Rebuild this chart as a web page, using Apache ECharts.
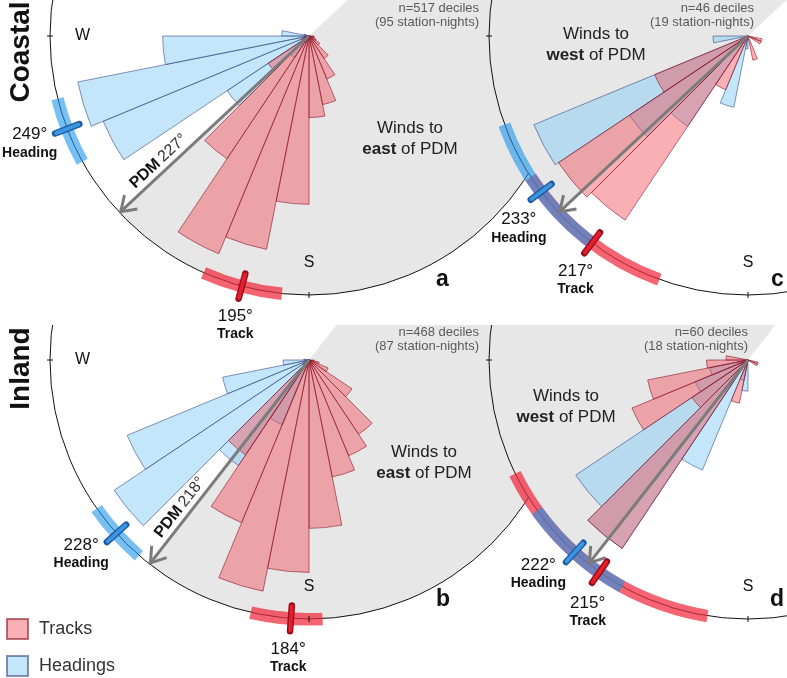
<!DOCTYPE html>
<html><head><meta charset="utf-8">
<script src="https://cdn.jsdelivr.net/npm/echarts@6/dist/echarts.min.js"></script>
<style>
html,body{margin:0;padding:0;background:#fff;}
#top,#bot{position:absolute;left:0;width:787px;}
#top{top:0;height:346px;z-index:2;}
#bot{top:325px;height:353px;z-index:1;}
</style>
</head><body><div id="bot"></div><div id="top"></div>
<script>
const FONT = "'Liberation Sans', Arial, Helvetica, sans-serif";

// 32 direction bins (bearing of bin start, degrees clockwise from north)
const binStarts = [0,11.25,22.5,33.75,45,56.25,67.5,78.75,90,101.25,112.5,123.75,135,146.25,157.5,168.75,
                   180,191.25,202.5,213.75,225,236.25,247.5,258.75,270,281.25,292.5,303.75,315,326.25,337.5,348.75];

// panels: a (coastal, all), b (inland, all), c (coastal, west), d (inland, west)
const panelLetters  = ['a','b','c','d'];
const pdmBearing    = [227,218,227,218];
const shadedSide    = ['east','east','west','west'];
const headingMean   = [249,228,233,222];
const headingLow    = [241,221,217,209];
const headingHigh   = [256,235,250,234.5];
const trackMean     = [195,184,217,215];
const trackLow      = [186,177,200,189];
const trackHigh     = [204,193,237,244];
const decileCount   = [517,468,46,60];
const stationNights = [95,87,19,18];
const compassShown  = [['W','S'],['W','S'],['S'],['S']];
const pdmLabelShown = [true,true,false,false];
const windSideWord  = ['east','east','west','west'];
const legendNames   = ['Tracks','Headings'];

// rose lengths (% of circle radius) per bin
const tracksA   = [0,0,0,0,0,0,0,0,2,2,3,5,10.5,18,27,31.5,65,84,91,57,19,3,2,0,0,0,0,0,0,0,0,0];
const headingsA = [0,0,0,0,0,0,0,0,0,0,0,0,0,0,0,0,0,0,3,10,38,86,91,56.5,10.5,2,0,0,0,0,0,0];
const tracksB   = [0,0,0,0,0,0,0,0,2,4,8,20,34.5,40,46,65,82,91,68,44,3,0,0,0,0,0,0,0,0,0,0,0];
const headingsB = [0,0,0,0,0,0,0,0,0,0,0,0,0,0,0,0,0,3,27,49,90.5,76,34,10,2,0,0,0,0,0,0,0];
const tracksC   = [0,0,0,0,0,0,0,0,0,5.5,5.5,0,0,0,9.5,0,0,0,22.5,85.5,88,39,0,0,0,0,0,0,0,0,0,0];
const headingsC = [0,0,0,0,0,0,0,0,0,0,0,0,0,0,0,0,5,28,0,42,55,89.5,0,13.5,0,0,0,0,0,0,0,0];
const tracksD   = [0,0,0,0,0,0,0,0,0,4,4,0,0,0,0,0,0,17,0,87.5,26,48.5,39.5,16,8.5,0,0,0,0,0,0,0];
const headingsD = [0,0,0,0,0,0,0,0,0,0,0,0,0,0,0,0,12,8,46,87.5,80,22,15,0,0,0,0,0,0,0,0,0];
const trackSeries   = [tracksA, tracksB, tracksC, tracksD];
const headingSeries = [headingsA, headingsB, headingsC, headingsD];

// ---------- layout ----------
const R_PX = 259;
const panelLayout = [
  {center:[309,36], nX:479, nY:15.5, winds:[410,139], letter:[442.5,280], hShift:0,   tShift:-0.7},
  {center:[309,35], nX:479, nY:14.7, winds:[424,138], letter:[443,275],   hShift:1.6, tShift:0},
  {center:[748,36], nX:754, nY:15.5, winds:[596,45],  letter:[777.5,280], hShift:-3,  tShift:-1.7},
  {center:[748,35], nX:748, nY:14.7, winds:[566,82],  letter:[777,275],   hShift:2.5, tShift:-2.5}
];
const legendTops = [293, 330];
const RED_FILL = 'rgba(240,80,92,0.45)', RED_EDGE = 'rgba(140,20,40,0.6)';
const BLUE_FILL = 'rgba(135,205,245,0.5)', BLUE_EDGE = 'rgba(40,60,120,0.55)';
const GRAY = '#e7e7e7';

function helpers(api) {
  const c = api.coord([0, 0]);
  const ref = api.coord([100, 180]);
  const R = Math.hypot(ref[0]-c[0], ref[1]-c[1]);
  const norm = b => ((b % 360) + 360) % 360;
  const dir = b => { const p = api.coord([100, norm(b)]); return [(p[0]-c[0])/R, (p[1]-c[1])/R]; };
  const at = (b, rpx) => { const d = dir(b); return [c[0]+d[0]*rpx, c[1]+d[1]*rpx]; };
  const ang = b => { const d = dir(b); return Math.atan2(d[1], d[0]); };
  const sector = (b1, b2, r0, r, fill) => {
    let s = ang(b1), e = ang(b2);
    while (e <= s) e += 2*Math.PI;
    return {type:'sector', shape:{cx:c[0], cy:c[1], r0, r, startAngle:s, endAngle:e, clockwise:true}, style:{fill}};
  };
  return {c, R, dir, at, ang, sector};
}

function grayRender(p) {
  return function (params, api) {
    const H = helpers(api);
    const pdm = pdmBearing[p];
    const b1 = shadedSide[p] === 'east' ? pdm - 180 : pdm;
    const b2 = shadedSide[p] === 'east' ? pdm : pdm + 180;
    return H.sector(b1, b2, 0, H.R, GRAY);
  };
}

function line(p1, p2, stroke, w, cap) {
  return {type:'line', shape:{x1:p1[0], y1:p1[1], x2:p2[0], y2:p2[1]}, style:{stroke, lineWidth:w, lineCap:cap||'butt'}};
}

function decorRender(p) {
  const L = panelLayout[p];
  return function (params, api) {
    const H = helpers(api);
    const R = H.R;
    const kids = [];
    kids.push(H.sector(trackLow[p], trackHigh[p], R-6, R+6.5, 'rgba(240,40,60,0.72)'));
    kids.push(H.sector(headingLow[p], headingHigh[p], R-6, R+6.5, 'rgba(30,150,235,0.6)'));
    [180, 270].forEach(b => kids.push(line(H.at(b, R-3), H.at(b, R+3), '#111', 1)));
    compassShown[p].forEach(t => {
      const b = t === 'S' ? 180 : 270;
      const q = H.at(b, R - 32.5);
      kids.push({type:'text', x:q[0], y:q[1], style:{text:t, font:'16px '+FONT, fill:'#111', align:'center', verticalAlign:'middle'}});
    });
    const pdm = pdmBearing[p];
    const u = H.dir(pdm);
    const tip = H.at(pdm, R - 1.5);
    kids.push(line(H.c, tip, '#7b7b7b', 3));
    const arm = sgn => {
      const th = sgn * 34 * Math.PI / 180, bx = -u[0], by = -u[1];
      const rx = bx*Math.cos(th) - by*Math.sin(th), ry = bx*Math.sin(th) + by*Math.cos(th);
      return [tip[0] + rx*17, tip[1] + ry*17];
    };
    kids.push({type:'polyline', shape:{points:[arm(1), tip, arm(-1)]}, style:{stroke:'#7b7b7b', lineWidth:3, fill:null, lineJoin:'miter'}});
    if (pdmLabelShown[p]) {
      const mid = H.at(pdm, 0.755*R);
      const px = mid[0] - u[1]*11, py = mid[1] + u[0]*11;
      kids.push({type:'text', x:px, y:py, rotation:Math.atan2(u[1], -u[0]),
        style:{text:'{b|PDM} {n|' + pdm + '°}', align:'center', verticalAlign:'middle',
          rich:{b:{fontFamily:FONT, fontSize:16, fontWeight:'bold', fill:'#111'}, n:{fontFamily:FONT, fontSize:16, fill:'#333'}}}});
    }
    const marker = (b, dark, light) => {
      kids.push(line(H.at(b, R-13), H.at(b, R+13), dark, 6.5, 'round'));
      kids.push(line(H.at(b, R-12), H.at(b, R+12), light, 3.8, 'round'));
    };
    marker(trackMean[p], '#9a0c18', '#e41e2c');
    marker(headingMean[p], '#1d5aa0', '#3b95e0');
    const rich = {n:{fontFamily:FONT, fontSize:17, lineHeight:19, fill:'#111'}, w:{fontFamily:FONT, fontSize:14, fontWeight:'bold', lineHeight:17, fill:'#111'}};
    const hp = H.at(headingMean[p] + L.hShift, R*1.155);
    kids.push({type:'text', x:hp[0], y:hp[1], style:{text:'{n|' + headingMean[p] + '°}\n{w|Heading}', rich, align:'center', verticalAlign:'middle'}});
    const tp = H.at(trackMean[p] + L.tShift, R*1.152);
    kids.push({type:'text', x:tp[0], y:tp[1], style:{text:'{n|' + trackMean[p] + '°}\n{w|Track}', rich, align:'center', verticalAlign:'middle'}});
    return {type:'group', children:kids};
  };
}

function buildOption(panelIdx, sideLabel, sideLabelY, withLegend) {
  const polar = [], angleAxis = [], radiusAxis = [], series = [], graphic = [];
  panelIdx.forEach((p, k) => {
    const L = panelLayout[p];
    const ri = 2*k, oi = 2*k + 1;
    polar.push({center:L.center, radius:R_PX}, {center:L.center, radius:R_PX});
    angleAxis.push({polarIndex:ri, type:'category', data:binStarts, startAngle:90, clockwise:true, boundaryGap:true, show:false});
    radiusAxis.push({polarIndex:ri, type:'value', min:0, max:100, show:false});
    angleAxis.push({polarIndex:oi, type:'value', min:0, max:360, startAngle:90, clockwise:true, z:2 + 2*k,
      axisLine:{show:true, lineStyle:{color:'#111', width:1}}, axisTick:{show:false}, axisLabel:{show:false}, splitLine:{show:false}});
    radiusAxis.push({polarIndex:oi, type:'value', min:0, max:100, show:false});
    series.push({type:'custom', coordinateSystem:'polar', polarIndex:oi, z:1 + 2*k, silent:true, data:[[0,0]], renderItem:grayRender(p)});
    series.push({type:'bar', name:legendNames[1], coordinateSystem:'polar', polarIndex:ri, z:10, silent:true,
      data:headingSeries[p].map(v => v > 0 ? v : null), barCategoryGap:'0%', barGap:'-100%',
      itemStyle:{color:BLUE_FILL, borderColor:BLUE_EDGE, borderWidth:1}, emphasis:{disabled:true}});
    series.push({type:'bar', name:legendNames[0], coordinateSystem:'polar', polarIndex:ri, z:11, silent:true,
      data:trackSeries[p].map(v => v > 0 ? v : null), barCategoryGap:'0%', barGap:'-100%',
      itemStyle:{color:RED_FILL, borderColor:RED_EDGE, borderWidth:1}, emphasis:{disabled:true}});
    series.push({type:'custom', coordinateSystem:'polar', polarIndex:oi, z:12, silent:true, data:[[0,0]], renderItem:decorRender(p)});
    graphic.push({type:'text', x:L.nX, y:L.nY, z:50, silent:true, style:{text:'n=' + decileCount[p] + ' deciles\n(' + stationNights[p] + ' station-nights)',
      font:'13px ' + FONT, fill:'#5a5a5a', align:'right', verticalAlign:'middle', lineHeight:14.4}});
    graphic.push({type:'text', x:L.winds[0], y:L.winds[1], z:50, silent:true, style:{text:'{r|Winds to}\n{b|' + windSideWord[p] + '}{r| of PDM}',
      align:'center', verticalAlign:'middle',
      rich:{r:{fontFamily:FONT, fontSize:17, lineHeight:21.5, fill:'#222'}, b:{fontFamily:FONT, fontSize:17, fontWeight:'bold', lineHeight:21.5, fill:'#222'}}}});
    graphic.push({type:'text', x:L.letter[0], y:L.letter[1], z:50, silent:true, style:{text:panelLetters[p], font:'bold 23px ' + FONT, fill:'#111', align:'center', verticalAlign:'middle'}});
  });
  graphic.push({type:'text', x:21, y:sideLabelY, rotation:Math.PI/2, z:50, silent:true, style:{text:sideLabel, font:'bold 28px ' + FONT, fill:'#111', align:'center', verticalAlign:'middle'}});
  const opt = {animation:false, backgroundColor:'rgba(0,0,0,0)', textStyle:{fontFamily:FONT},
    polar, angleAxis, radiusAxis, series, graphic, tooltip:{show:false}};
  if (withLegend) {
    opt.legend = legendNames.map((nm, i) => ({data:[nm], orient:'vertical', left:6, top:legendTops[i], padding:0,
      itemWidth:21, itemHeight:20, icon:'rect', selectedMode:false,
      textStyle:{fontSize:18, color:'#333', fontFamily:FONT, padding:[0,0,0,6]}}));
  } else {
    opt.legend = {show:false};
  }
  return opt;
}

const topChart = echarts.init(document.getElementById('top'), null, {renderer:'canvas'});
topChart.setOption(buildOption([0, 2], 'Coastal', 52, false));
const botChart = echarts.init(document.getElementById('bot'), null, {renderer:'canvas'});
botChart.setOption(buildOption([1, 3], 'Inland', 43.5, true));
</script></body></html>
